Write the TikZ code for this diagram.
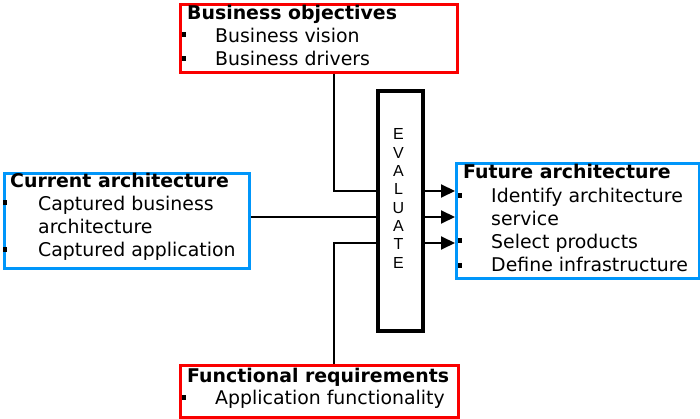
\documentclass[tikz,border=0pt]{standalone}
\usepackage{fontspec}
\setmainfont{DejaVu Sans}
\newfontfamily\evalfont{Liberation Sans}
\usetikzlibrary{arrows.meta}
\definecolor{boxred}{RGB}{250,0,0}
\definecolor{boxblue}{RGB}{0,150,250}
\begin{document}
\begin{tikzpicture}[x=1pt,y=-1pt,
  redbox/.style={draw=boxred,line width=3pt,inner sep=0pt,anchor=north west},
  bluebox/.style={draw=boxblue,line width=3pt,inner sep=0pt,anchor=north west},
  evalbox/.style={draw=black,line width=4pt,inner sep=0pt,anchor=north west},
  ttl/.style={anchor=base west,inner sep=0pt,font=\fontsize{18.9}{22}\selectfont\bfseries},
  itm/.style={anchor=base west,inner sep=0pt,font=\fontsize{18.9}{22}\selectfont},
  bul/.style={fill=black,inner sep=0pt,minimum width=4.5pt,minimum height=5pt},
  conn/.style={draw=black,line width=2pt},
  arr/.style={conn,-{Triangle[length=14pt,width=13pt]}}]
\useasboundingbox (0,0) rectangle (700,419);
% boxes
\node[redbox,minimum width=277pt,minimum height=68pt] (biz) at (179,3) {};
\node[bluebox,minimum width=245pt,minimum height=95pt] (cur) at (3,172) {};
\node[bluebox,minimum width=243pt,minimum height=115pt] (fut) at (455,162) {};
\node[redbox,minimum width=278pt,minimum height=52pt] (fun) at (179,364) {};
\node[evalbox,minimum width=45pt,minimum height=240pt] (eval) at (376,89) {};
% business objectives
\node[ttl] (bizt) at (187,20) {Business objectives};
\node[bul] (bizb1) at (184,35) {};
\node[itm] (bizi1) at (215,43) {Business vision};
\node[bul] (bizb2) at (184,59) {};
\node[itm] (bizi2) at (215,66) {Business drivers};
% current architecture
\node[ttl] (curt) at (10,188) {Current architecture};
\node[bul] (curb1) at (5,203) {};
\node[itm] (curi1) at (38,211) {Captured business};
\node[itm] (curi2) at (38,234) {architecture};
\node[bul] (curb2) at (5,250) {};
\node[itm] (curi3) at (38,257) {Captured application};
% future architecture
\node[ttl] (futt) at (463,179) {Future architecture};
\node[bul] (futb1) at (460,196) {};
\node[itm] (futi1) at (491,203) {Identify architecture};
\node[itm] (futi2) at (491,226) {service};
\node[bul] (futb2) at (460,241) {};
\node[itm] (futi3) at (491,248) {Select products};
\node[bul] (futb3) at (460,265) {};
\node[itm] (futi4) at (491,271) {Define infrastructure};
% functional requirements
\node[ttl] (funt) at (187,382) {Functional requirements};
\node[bul] (funb1) at (184,397) {};
\node[itm] (funi1) at (215,404) {Application functionality};
% evaluate
\node[inner sep=0pt,align=center,font=\evalfont\fontsize{16}{18.3}\selectfont] (evt) at (398.5,198.5) {E\\V\\A\\L\\U\\A\\T\\E};
% connectors
\coordinate (j1) at (334,191);
\coordinate (j2) at (334,217);
\coordinate (j3) at (334,243);
\draw[conn] (biz.south -| j1) |- (eval.west |- j1);
\draw[conn] (cur.east |- j2) -- (eval.west |- j2);
\draw[conn] (fun.north -| j3) |- (eval.west |- j3);
\draw[arr] (eval.east |- j1) -- (fut.west |- j1);
\draw[arr] (eval.east |- j2) -- (fut.west |- j2);
\draw[arr] (eval.east |- j3) -- (fut.west |- j3);
\end{tikzpicture}
\end{document}
